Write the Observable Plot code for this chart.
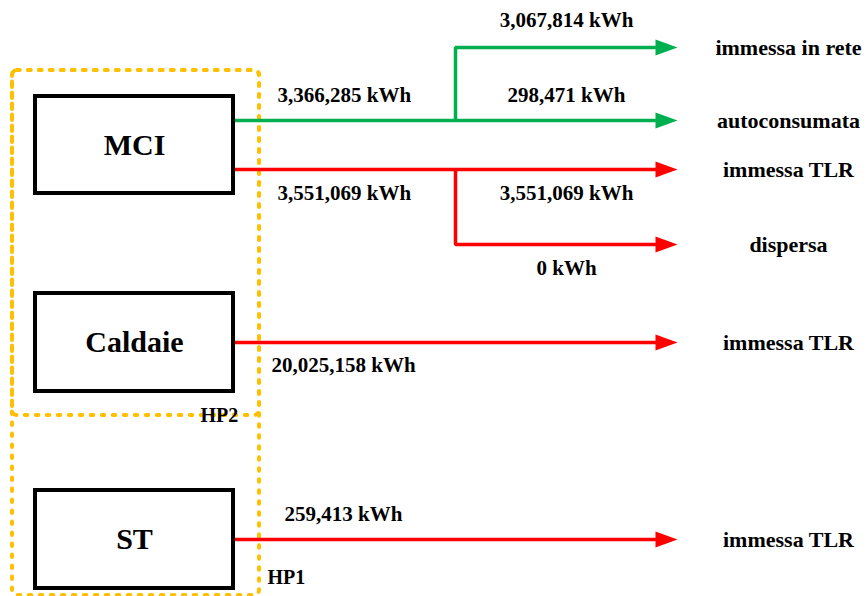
<!DOCTYPE html>
<html><head><meta charset="utf-8">
<script src="https://cdn.jsdelivr.net/npm/d3@7"></script>
<script src="https://cdn.jsdelivr.net/npm/@observablehq/plot@0.6"></script>
<style>html,body{margin:0;padding:0;background:#fff}
#chart svg text{font-family:"Liberation Serif","Times New Roman",serif !important;}</style>
</head><body><div id="chart"></div>
<script>
// ---- data ----
const units = ["MCI", "Caldaie", "ST"];
const groups = ["HP2", "HP1"];
const sourceFlows = ["MCI elettrica", "MCI termica", "Caldaie termica", "ST termica"];
const sourceValues = [3366285, 3551069, 20025158, 259413];
const splitNames = ["immessa in rete", "autoconsumata", "immessa TLR", "dispersa"];
const splitValues = [3067814, 298471, 3551069, 0];
const destNames = ["immessa in rete", "autoconsumata", "immessa TLR", "dispersa", "immessa TLR", "immessa TLR"];
const fmt = v => d3.format(",")(v) + " kWh";

// ---- layout (diagram geometry) ----
const W = 867, H = 596;
const boxX = [35, 233];
const boxY = {MCI: [96, 193], Caldaie: [293, 391], ST: [490, 588]};
const groupRect = {HP2: [12, 259, 70, 415], HP1: [12, 259, 70, 595]};
const groupLabel = {HP2: [200, 415], HP1: [267, 577]};
const branchX = 455, lineEnd = 656, tipX = 677, splitLabelX = 566, destX = 788;
const rowY = [47, 120, 169, 244, 342, 539];
const GREEN = "#00B050", RED = "#FF0000", ORANGE = "#FFC000";
const rowColor = [GREEN, GREEN, RED, RED, RED, RED];
const sourceRow = [1, 2, 4, 5];
const sourceLabelPos = [[277, 95], [277, 193], [271, 365], [284, 514]];
const splitLabelY = [20, 95, 193, 268];

// paths
const paths = [];
sourceFlows.forEach((f, i) => {
  const y = rowY[sourceRow[i]];
  paths.push({id: f, x: boxX[1], y, c: rowColor[sourceRow[i]]});
  paths.push({id: f, x: lineEnd, y, c: rowColor[sourceRow[i]]});
});
[[1, 0], [2, 3]].forEach(([from, to]) => {
  const id = "branch" + to;
  paths.push({id, x: branchX, y: rowY[from], c: rowColor[to]});
  paths.push({id, x: branchX, y: rowY[to], c: rowColor[to]});
  paths.push({id, x: lineEnd, y: rowY[to], c: rowColor[to]});
});

const arrowHead = {draw(ctx) { ctx.moveTo(0, 0); ctx.lineTo(-22, -8); ctx.lineTo(-22, 8); ctx.closePath(); }};
const FONT = "Liberation Serif";

const plot = Plot.plot({
  width: W, height: H, margin: 0,
  x: {type: "identity", axis: null},
  y: {type: "identity", axis: null},
  color: {type: "identity"},
  marks: [
    // group containers
    Plot.rect(groups, {
      x1: g => groupRect[g][0], x2: g => groupRect[g][1],
      y1: g => groupRect[g][2], y2: g => groupRect[g][3],
      fill: "none", stroke: ORANGE, strokeWidth: 4, strokeDasharray: "2.5,8.5",
      strokeLinecap: "round", rx: 5
    }),
    // flow lines
    Plot.line(paths, {x: "x", y: "y", z: "id", stroke: "c", strokeWidth: 3.5,
      strokeLinejoin: "miter", strokeLinecap: "butt"}),
    // arrowheads
    Plot.dot(destNames, {x: () => tipX, y: (d, i) => rowY[i], fill: (d, i) => rowColor[i], symbol: arrowHead}),
    // unit boxes
    Plot.rect(units, {
      x1: () => boxX[0], x2: () => boxX[1],
      y1: u => boxY[u][0], y2: u => boxY[u][1],
      fill: "white", stroke: "black", strokeWidth: 4
    }),
    Plot.text(units, {
      x: () => (boxX[0] + boxX[1]) / 2, y: u => (boxY[u][0] + boxY[u][1]) / 2,
      text: d => d, fontSize: 30, fontWeight: "bold", fontFamily: FONT, fill: "black"
    }),
    // group labels
    Plot.text(groups, {
      x: g => groupLabel[g][0], y: g => groupLabel[g][1], text: d => d,
      textAnchor: "start", fontSize: 20, fontWeight: "bold", fontFamily: FONT, fill: "black"
    }),
    // source values
    Plot.text(sourceValues, {
      x: (d, i) => sourceLabelPos[i][0], y: (d, i) => sourceLabelPos[i][1],
      text: d => fmt(d), textAnchor: "start",
      fontSize: 21, fontWeight: "bold", fontFamily: FONT, fill: "black"
    }),
    // split values
    Plot.text(splitValues, {
      x: () => splitLabelX, y: (d, i) => splitLabelY[i],
      text: d => fmt(d), fontSize: 21, fontWeight: "bold", fontFamily: FONT, fill: "black"
    }),
    // destination names
    Plot.text(destNames, {
      x: () => destX, y: (d, i) => rowY[i], text: d => d,
      fontSize: 22, fontWeight: "bold", fontFamily: FONT, fill: "black"
    })
  ]
});
document.getElementById("chart").appendChild(plot);
</script>
</body></html>
